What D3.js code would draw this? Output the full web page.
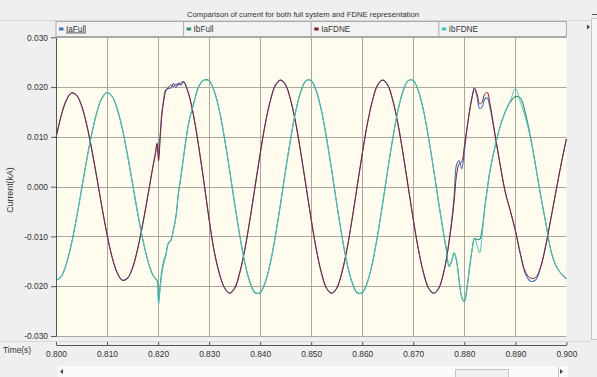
<!DOCTYPE html>
<html>
<head>
<meta charset="utf-8">
<script src="https://cdn.jsdelivr.net/npm/d3@7"></script>
<style>
  body { margin: 0; background: #efefef; }
  svg { display: block; font-family: "Liberation Sans", Arial, sans-serif; }
</style>
</head>
<body>
<div id="wrapper"></div>
<script>
// Data (time in s, currents in kA)
const times = [
  0.800, 0.801, 0.802, 0.803, 0.804, 0.805, 0.806, 0.807, 0.808, 0.809,
  0.810, 0.811, 0.812, 0.813, 0.814, 0.815, 0.816, 0.817, 0.818, 0.819,
  0.8195, 0.8198, 0.8201, 0.8204, 0.8207, 0.8211, 0.8215,
  0.822, 0.8225, 0.823, 0.8235, 0.824, 0.8245, 0.825,
  0.826, 0.827, 0.828, 0.829, 0.830, 0.831, 0.832, 0.833, 0.834, 0.835,
  0.836, 0.837, 0.838, 0.839, 0.840, 0.841, 0.842, 0.843, 0.844, 0.845,
  0.846, 0.847, 0.848, 0.849, 0.850, 0.851, 0.852, 0.853, 0.854, 0.855,
  0.856, 0.857, 0.858, 0.859, 0.860, 0.861, 0.862, 0.863, 0.864, 0.865,
  0.866, 0.867, 0.868, 0.869, 0.870, 0.871, 0.872, 0.873, 0.874, 0.875, 0.876,
  0.8765, 0.877, 0.8775, 0.878, 0.8785, 0.879, 0.8795, 0.880, 0.8805,
  0.881, 0.8815, 0.882, 0.8825, 0.883, 0.8835, 0.884, 0.8845,
  0.885, 0.886, 0.887, 0.888, 0.889, 0.890, 0.891, 0.892,
  0.893, 0.894, 0.895, 0.896, 0.897, 0.898, 0.899, 0.900
];

const iaFull = [
  0.0098, 0.0142, 0.0173, 0.0188, 0.0184, 0.0163, 0.0125, 0.0075, 0.0018, -0.0041,
  -0.0096, -0.0142, -0.0173, -0.0188, -0.0184, -0.0163, -0.0125, -0.0075, -0.0018, 0.0041,
  0.0068, 0.0088, 0.0060, 0.0100, 0.0145, 0.0175, 0.0195,
  0.0197, 0.0198, 0.0207, 0.0199, 0.0208, 0.0204, 0.0211,
  0.0186, 0.0140, 0.0078, 0.0008, -0.0066, -0.0130, -0.0174, -0.0203, -0.0214, -0.0204,
  -0.0173, -0.0126, -0.0066, 0.0000, 0.0066, 0.0126, 0.0173, 0.0204, 0.0214, 0.0204,
  0.0173, 0.0126, 0.0066, 0.0000, -0.0066, -0.0126, -0.0173, -0.0204, -0.0214, -0.0204,
  -0.0173, -0.0126, -0.0066, 0.0000, 0.0066, 0.0126, 0.0173, 0.0204, 0.0214, 0.0204,
  0.0173, 0.0126, 0.0066, 0.0000, -0.0066, -0.0126, -0.0173, -0.0204, -0.0214, -0.0204, -0.0170,
  -0.0145, -0.0110, -0.0070, -0.0020, 0.0045, 0.0052, 0.0036, 0.0070, 0.0115,
  0.0150, 0.0180, 0.0199, 0.0180, 0.0157, 0.0160, 0.0176, 0.0178,
  0.0160, 0.0104, 0.0045, -0.0010, -0.0048, -0.0088, -0.0136, -0.0176,
  -0.0190, -0.0187, -0.0160, -0.0116, -0.0062, -0.0007, 0.0047, 0.0096
];

const ibFull = [
  -0.0188, -0.0181, -0.0156, -0.0116, -0.0064, -0.0006, 0.0053, 0.0106, 0.0149, 0.0178,
  0.0189, 0.0181, 0.0156, 0.0116, 0.0064, 0.0006, -0.0053, -0.0106, -0.0149, -0.0178,
  -0.0185, -0.0188, -0.0232, -0.0200, -0.0172, -0.0150, -0.0137,
  -0.0114, -0.0108, -0.0087, -0.0060, -0.0012, 0.0022, 0.0060,
  0.0128, 0.0168, 0.0202, 0.0214, 0.0213, 0.0192, 0.0153, 0.0098, 0.0034, -0.0034,
  -0.0098, -0.0153, -0.0192, -0.0213, -0.0213, -0.0192, -0.0153, -0.0098, -0.0034, 0.0034,
  0.0098, 0.0153, 0.0192, 0.0213, 0.0213, 0.0192, 0.0153, 0.0098, 0.0034, -0.0034,
  -0.0098, -0.0153, -0.0192, -0.0213, -0.0213, -0.0192, -0.0153, -0.0098, -0.0034, 0.0034,
  0.0098, 0.0153, 0.0192, 0.0213, 0.0213, 0.0192, 0.0153, 0.0098, 0.0034, -0.0034, -0.0098,
  -0.0128, -0.0160, -0.0150, -0.0133, -0.0150, -0.0190, -0.0222, -0.0231, -0.0205,
  -0.0165, -0.0128, -0.0104, -0.0106, -0.0106, -0.0085, -0.0042, -0.0005,
  0.0030, 0.0080, 0.0120, 0.0150, 0.0170, 0.0181, 0.0178, 0.0146,
  0.0098, 0.0040, -0.0020, -0.0075, -0.0130, -0.0160, -0.0175, -0.0185
];

const iaFdne = [
  0.0098, 0.0142, 0.0173, 0.0188, 0.0184, 0.0163, 0.0125, 0.0075, 0.0018, -0.0041,
  -0.0096, -0.0142, -0.0173, -0.0188, -0.0184, -0.0163, -0.0125, -0.0075, -0.0018, 0.0041,
  0.0068, 0.0086, 0.0052, 0.0098, 0.0140, 0.0172, 0.0192,
  0.0199, 0.0204, 0.0201, 0.0206, 0.0204, 0.0209, 0.0210,
  0.0186, 0.0140, 0.0078, 0.0008, -0.0066, -0.0130, -0.0174, -0.0203, -0.0214, -0.0204,
  -0.0173, -0.0126, -0.0066, 0.0000, 0.0066, 0.0126, 0.0173, 0.0204, 0.0214, 0.0204,
  0.0173, 0.0126, 0.0066, 0.0000, -0.0066, -0.0126, -0.0173, -0.0204, -0.0214, -0.0204,
  -0.0173, -0.0126, -0.0066, 0.0000, 0.0066, 0.0126, 0.0173, 0.0204, 0.0214, 0.0204,
  0.0173, 0.0126, 0.0066, 0.0000, -0.0066, -0.0126, -0.0173, -0.0204, -0.0214, -0.0204, -0.0170,
  -0.0145, -0.0112, -0.0075, -0.0030, 0.0025, 0.0046, 0.0050, 0.0080, 0.0115,
  0.0150, 0.0178, 0.0197, 0.0186, 0.0166, 0.0170, 0.0186, 0.0189,
  0.0168, 0.0106, 0.0045, -0.0010, -0.0048, -0.0088, -0.0136, -0.0172,
  -0.0184, -0.0182, -0.0160, -0.0116, -0.0062, -0.0007, 0.0047, 0.0096
];

const ibFdne = [
  -0.0188, -0.0181, -0.0156, -0.0116, -0.0064, -0.0006, 0.0053, 0.0106, 0.0149, 0.0178,
  0.0189, 0.0181, 0.0156, 0.0116, 0.0064, 0.0006, -0.0053, -0.0106, -0.0149, -0.0178,
  -0.0185, -0.0188, -0.0236, -0.0205, -0.0178, -0.0155, -0.0140,
  -0.0114, -0.0108, -0.0087, -0.0060, -0.0012, 0.0022, 0.0060,
  0.0128, 0.0168, 0.0202, 0.0214, 0.0213, 0.0192, 0.0153, 0.0098, 0.0034, -0.0034,
  -0.0098, -0.0153, -0.0192, -0.0213, -0.0213, -0.0192, -0.0153, -0.0098, -0.0034, 0.0034,
  0.0098, 0.0153, 0.0192, 0.0213, 0.0213, 0.0192, 0.0153, 0.0098, 0.0034, -0.0034,
  -0.0098, -0.0153, -0.0192, -0.0213, -0.0213, -0.0192, -0.0153, -0.0098, -0.0034, 0.0034,
  0.0098, 0.0153, 0.0192, 0.0213, 0.0213, 0.0192, 0.0153, 0.0098, 0.0034, -0.0034, -0.0098,
  -0.0128, -0.0160, -0.0150, -0.0133, -0.0150, -0.0190, -0.0222, -0.0231, -0.0205,
  -0.0165, -0.0128, -0.0104, -0.0118, -0.0133, -0.0095, -0.0045, -0.0005,
  0.0030, 0.0080, 0.0120, 0.0150, 0.0172, 0.0197, 0.0170, 0.0138,
  0.0095, 0.0040, -0.0020, -0.0075, -0.0130, -0.0160, -0.0175, -0.0185
];

const seriesNames = ['IaFull', 'IbFull', 'IaFDNE', 'IbFDNE'];
const seriesValues = [iaFull, ibFull, iaFdne, ibFdne];
const seriesColors = ['#3a72d6', '#27916f', '#8a1c26', '#45c3c6'];
const xTicks = [0.800, 0.810, 0.820, 0.830, 0.840, 0.850, 0.860, 0.870, 0.880, 0.890, 0.900];
const yTicks = [0.030, 0.020, 0.010, 0.000, -0.010, -0.020, -0.030];
const chartTitle = 'Comparison of current for both full system and FDNE representation';

// Dimensions
const dimensions = {
  width: 597,
  height: 377,
  plot: { left: 56, right: 566.4, top: 37.3, bottom: 336 },
};

const xScale = d3.scaleLinear()
  .domain([0.8, 0.9])
  .range([dimensions.plot.left, dimensions.plot.right]);

const yScale = d3.scaleLinear()
  .domain([-0.03, 0.03])
  .range([dimensions.plot.bottom, dimensions.plot.top]);

const fmt = (d) => d.toFixed(3);

const svg = d3.select('#wrapper')
  .append('svg')
  .attr('width', dimensions.width)
  .attr('height', dimensions.height);

svg.append('rect')
  .attr('width', dimensions.width)
  .attr('height', dimensions.height)
  .attr('fill', '#efefef');

// Title
svg.append('text')
  .attr('x', 303)
  .attr('y', 17)
  .attr('text-anchor', 'middle')
  .attr('fill', '#333')
  .style('font-size', '7.7px')
  .text(chartTitle);

svg.append('line')
  .attr('x1', 0).attr('x2', 590)
  .attr('y1', 20.5).attr('y2', 20.5)
  .attr('stroke', '#d6d6d6');

// Legend strip
const p = dimensions.plot;
const legend = svg.append('g');
legend.append('rect')
  .attr('x', p.left).attr('y', 21.5)
  .attr('width', p.right - p.left).attr('height', 15)
  .attr('fill', '#f3f3f3')
  .attr('stroke', '#a9a9a9');

const cellW = (p.right - p.left) / seriesNames.length;
seriesNames.forEach((name, i) => {
  const cx = p.left + i * cellW;
  if (i > 0) {
    legend.append('line')
      .attr('x1', cx).attr('x2', cx)
      .attr('y1', 21.5).attr('y2', 36.5)
      .attr('stroke', '#a9a9a9');
  }
  legend.append('rect')
    .attr('x', cx + 3).attr('y', 27.5)
    .attr('width', 4.5).attr('height', 3)
    .attr('fill', seriesColors[i]);
  const t = legend.append('text')
    .attr('x', cx + 10).attr('y', 31.5)
    .attr('fill', '#333')
    .style('font-size', '8.2px')
    .text(name);
  if (i === 0) t.attr('text-decoration', 'underline');
});

// Plot background
svg.append('rect')
  .attr('x', p.left).attr('y', p.top)
  .attr('width', p.right - p.left).attr('height', p.bottom - p.top)
  .attr('fill', '#fffcee');

// Grid
const grid = svg.append('g').attr('stroke', '#aca79c').attr('stroke-width', 1);
grid.selectAll('.vg')
  .data(xTicks.slice(1, -1))
  .join('line')
  .attr('x1', (d) => Math.round(xScale(d)) + 0.5)
  .attr('x2', (d) => Math.round(xScale(d)) + 0.5)
  .attr('y1', p.top).attr('y2', p.bottom);
grid.selectAll('.hg')
  .data(yTicks)
  .join('line')
  .attr('x1', p.left).attr('x2', p.right)
  .attr('y1', (d) => Math.round(yScale(d)) + 0.5)
  .attr('y2', (d) => Math.round(yScale(d)) + 0.5);

// Lines
const lineGenerator = d3.line()
  .x((d) => xScale(d[0]))
  .y((d) => yScale(d[1]))
  .curve(d3.curveCatmullRom.alpha(0.5));

seriesValues.forEach((values, i) => {
  svg.append('path')
    .attr('d', lineGenerator(times.map((t, j) => [t, values[j]])))
    .attr('fill', 'none')
    .attr('stroke', seriesColors[i])
    .attr('stroke-width', i < 2 ? 1.1 : 1);
});

// Y axis
const yAxis = d3.axisLeft(yScale)
  .tickValues(yTicks)
  .tickFormat(fmt)
  .tickSizeInner(5)
  .tickSizeOuter(0)
  .tickPadding(3);
const yAxisG = svg.append('g')
  .attr('transform', `translate(${p.left}, 0)`)
  .call(yAxis);
yAxisG.selectAll('text').style('font-size', '8.4px').attr('fill', '#333');
yAxisG.selectAll('line, path').attr('stroke', '#555');

svg.append('text')
  .attr('transform', 'translate(13, 190) rotate(-90)')
  .attr('text-anchor', 'middle')
  .attr('fill', '#333')
  .style('font-size', '8.8px')
  .text('Current(kA)');

// X axis panel
svg.append('line')
  .attr('x1', 0).attr('x2', 590)
  .attr('y1', 341.5).attr('y2', 341.5)
  .attr('stroke', '#d8d8d8');

const xAxis = d3.axisBottom(xScale)
  .tickValues(xTicks)
  .tickFormat(fmt)
  .tickSizeInner(-3)
  .tickSizeOuter(0)
  .tickPadding(6);
const xAxisG = svg.append('g')
  .attr('transform', 'translate(0, 345)')
  .call(xAxis);
xAxisG.selectAll('text').style('font-size', '8.4px').attr('fill', '#333');
xAxisG.selectAll('line, path').attr('stroke', '#555');

svg.append('text')
  .attr('x', 3).attr('y', 353)
  .attr('fill', '#333')
  .style('font-size', '8.4px')
  .text('Time(s)');

// Horizontal scrollbar
svg.append('rect')
  .attr('x', 58).attr('y', 366)
  .attr('width', 510).attr('height', 12)
  .attr('fill', '#fafafa');
svg.append('rect')
  .attr('x', 455.5).attr('y', 369.5)
  .attr('width', 53).attr('height', 9)
  .attr('fill', '#f0f0f0')
  .attr('stroke', '#c4c4c4');
svg.append('path').attr('d', 'M60,371.5 L63,369 L63,374 Z').attr('fill', '#444');
svg.append('path').attr('d', 'M563,371.5 L560,369 L560,374 Z').attr('fill', '#444');
svg.append('line')
  .attr('x1', 558.5).attr('x2', 558.5).attr('y1', 367).attr('y2', 377)
  .attr('stroke', '#c4c4c4');

// Vertical scrollbar
svg.append('rect')
  .attr('x', 591.5).attr('y', 18.5)
  .attr('width', 6).attr('height', 321)
  .attr('fill', '#f7f7f7')
  .attr('stroke', '#c4c4c4');
svg.append('path').attr('d', 'M587,24.5 L590,27 L587,29.5 Z').attr('fill', '#444');
svg.append('line')
  .attr('x1', 592).attr('x2', 597).attr('y1', 14.5).attr('y2', 14.5)
  .attr('stroke', '#555');
</script>
</body>
</html>
